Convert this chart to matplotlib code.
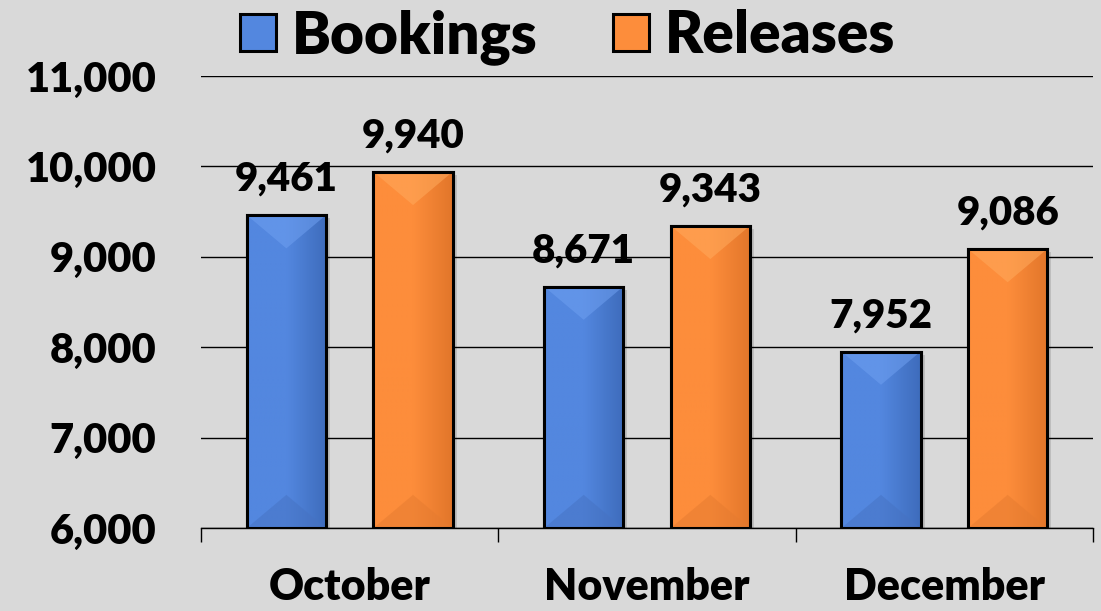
import matplotlib
matplotlib.use("Agg")
import matplotlib.pyplot as plt
import numpy as np
from matplotlib.patches import Polygon, Rectangle, Patch
from matplotlib.colors import LinearSegmentedColormap

categories = ["October", "November", "December"]
bookings = [9461, 8671, 7952]
releases = [9940, 9343, 9086]
series_names = ["Bookings", "Releases"]
yticks = [6000, 7000, 8000, 9000, 10000, 11000]
ytick_labels = ["6,000", "7,000", "8,000", "9,000", "10,000", "11,000"]

plt.rcParams['font.family'] = ['Lato', 'DejaVu Sans']
WEIGHT = 'heavy'

BG = "#d9d9d9"
fig = plt.figure(figsize=(11.01, 6.11), dpi=100, facecolor=BG)
ax = fig.add_axes([0.1826, 0.1358, 0.9927 - 0.1826, 0.8756 - 0.1358])
ax.set_facecolor(BG)
ax.set_xlim(-0.5, 2.5)
ax.set_ylim(6000, 11000)

x = np.arange(len(categories))
width = 0.266
offset = 0.213

styles = {
    "Bookings": dict(light="#5387df", dark="#3e6cbc", top="#6e9ff0", bottom="#4672c2"),
    "Releases": dict(light="#fd8d3b", dark="#e2762a", top="#ffaa5c", bottom="#e57b30"),
}

ax.yaxis.grid(True, color="#000000", linewidth=1.0)
ax.set_axisbelow(True)

ymin = ax.get_ylim()[0]
ppx = ax.transData.transform((1, 0))[0] - ax.transData.transform((0, 0))[0]
ppy = ax.transData.transform((0, 1))[1] - ax.transData.transform((0, 0))[1]

def draw_bars(xs, vals, name):
    st = styles[name]
    bars = ax.bar(xs, np.array(vals) - ymin, width, bottom=ymin, color=st["light"],
                  edgecolor="black", linewidth=2.2, zorder=3)
    cmap = LinearSegmentedColormap.from_list("g", [st["light"], st["light"], st["dark"]])
    for b in bars:
        x0, y0 = b.get_x(), b.get_y()
        w, h = b.get_width(), b.get_height()
        # faint shadow
        sx, sy = 4 / ppx, 3 / ppy
        ax.add_patch(Rectangle((x0 + sx, y0), w, h - sy, facecolor='#000000', alpha=0.12,
                               edgecolor='none', zorder=2.9))
        grad = np.linspace(0, 1, 64).reshape(1, -1)
        im = ax.imshow(grad, cmap=cmap, extent=(x0, x0 + w, y0, y0 + h), aspect='auto',
                       zorder=3.1, interpolation='bilinear')
        im.set_clip_path(b)
        depth = (w * ppx * 0.42) / ppy
        top = Polygon([(x0, y0 + h), (x0 + w, y0 + h), (x0 + w / 2, y0 + h - depth)],
                      closed=True, facecolor=st["top"], edgecolor='none', alpha=0.55, zorder=3.2)
        bot = Polygon([(x0, y0), (x0 + w, y0), (x0 + w / 2, y0 + depth)],
                      closed=True, facecolor=st["bottom"], edgecolor='none', alpha=0.5, zorder=3.2)
        ax.add_patch(top)
        ax.add_patch(bot)
        ax.add_patch(Rectangle((x0, y0), w, h, facecolor='none', edgecolor='black',
                               linewidth=2.2, zorder=3.5))
        ax.text(x0 + w / 2, y0 + h + 190, f"{int(round(y0 + h)):,}", ha='center', va='bottom',
                fontsize=29, fontweight=WEIGHT, zorder=4)
    return bars

draw_bars(x - offset, bookings, "Bookings")
draw_bars(x + offset, releases, "Releases")

ax.set_xlim(-0.5, 2.5)
ax.set_ylim(6000, 11000)
ax.set_yticks(yticks)
ax.set_yticklabels(ytick_labels, fontsize=30, fontweight=WEIGHT)
ax.tick_params(axis='y', length=0, pad=32)
ax.set_xticks(x)
ax.set_xticklabels(categories, fontsize=31, fontweight=WEIGHT)
ax.tick_params(axis='x', which='major', length=0, pad=28)
ax.set_xticks([-0.5, 0.5, 1.5, 2.5], minor=True)
ax.tick_params(axis='x', which='minor', length=10, width=1.0, direction='out', color='black')
for s in ['top', 'right', 'left']:
    ax.spines[s].set_visible(False)
ax.spines['bottom'].set_color('black')
ax.spines['bottom'].set_linewidth(1.0)

handles = [Patch(facecolor=styles[n]["light"], edgecolor='black', linewidth=2.2) for n in series_names]
leg = fig.legend(handles, series_names, loc='upper center', bbox_to_anchor=(0.5154, 1.071), ncol=2,
                 frameon=False, prop={'family': 'Lato', 'weight': WEIGHT, 'size': 42},
                 handlelength=0.62, handleheight=0.62, handletextpad=0.27, columnspacing=1.3)

fig.savefig("out.png", dpi=100, facecolor=BG)
